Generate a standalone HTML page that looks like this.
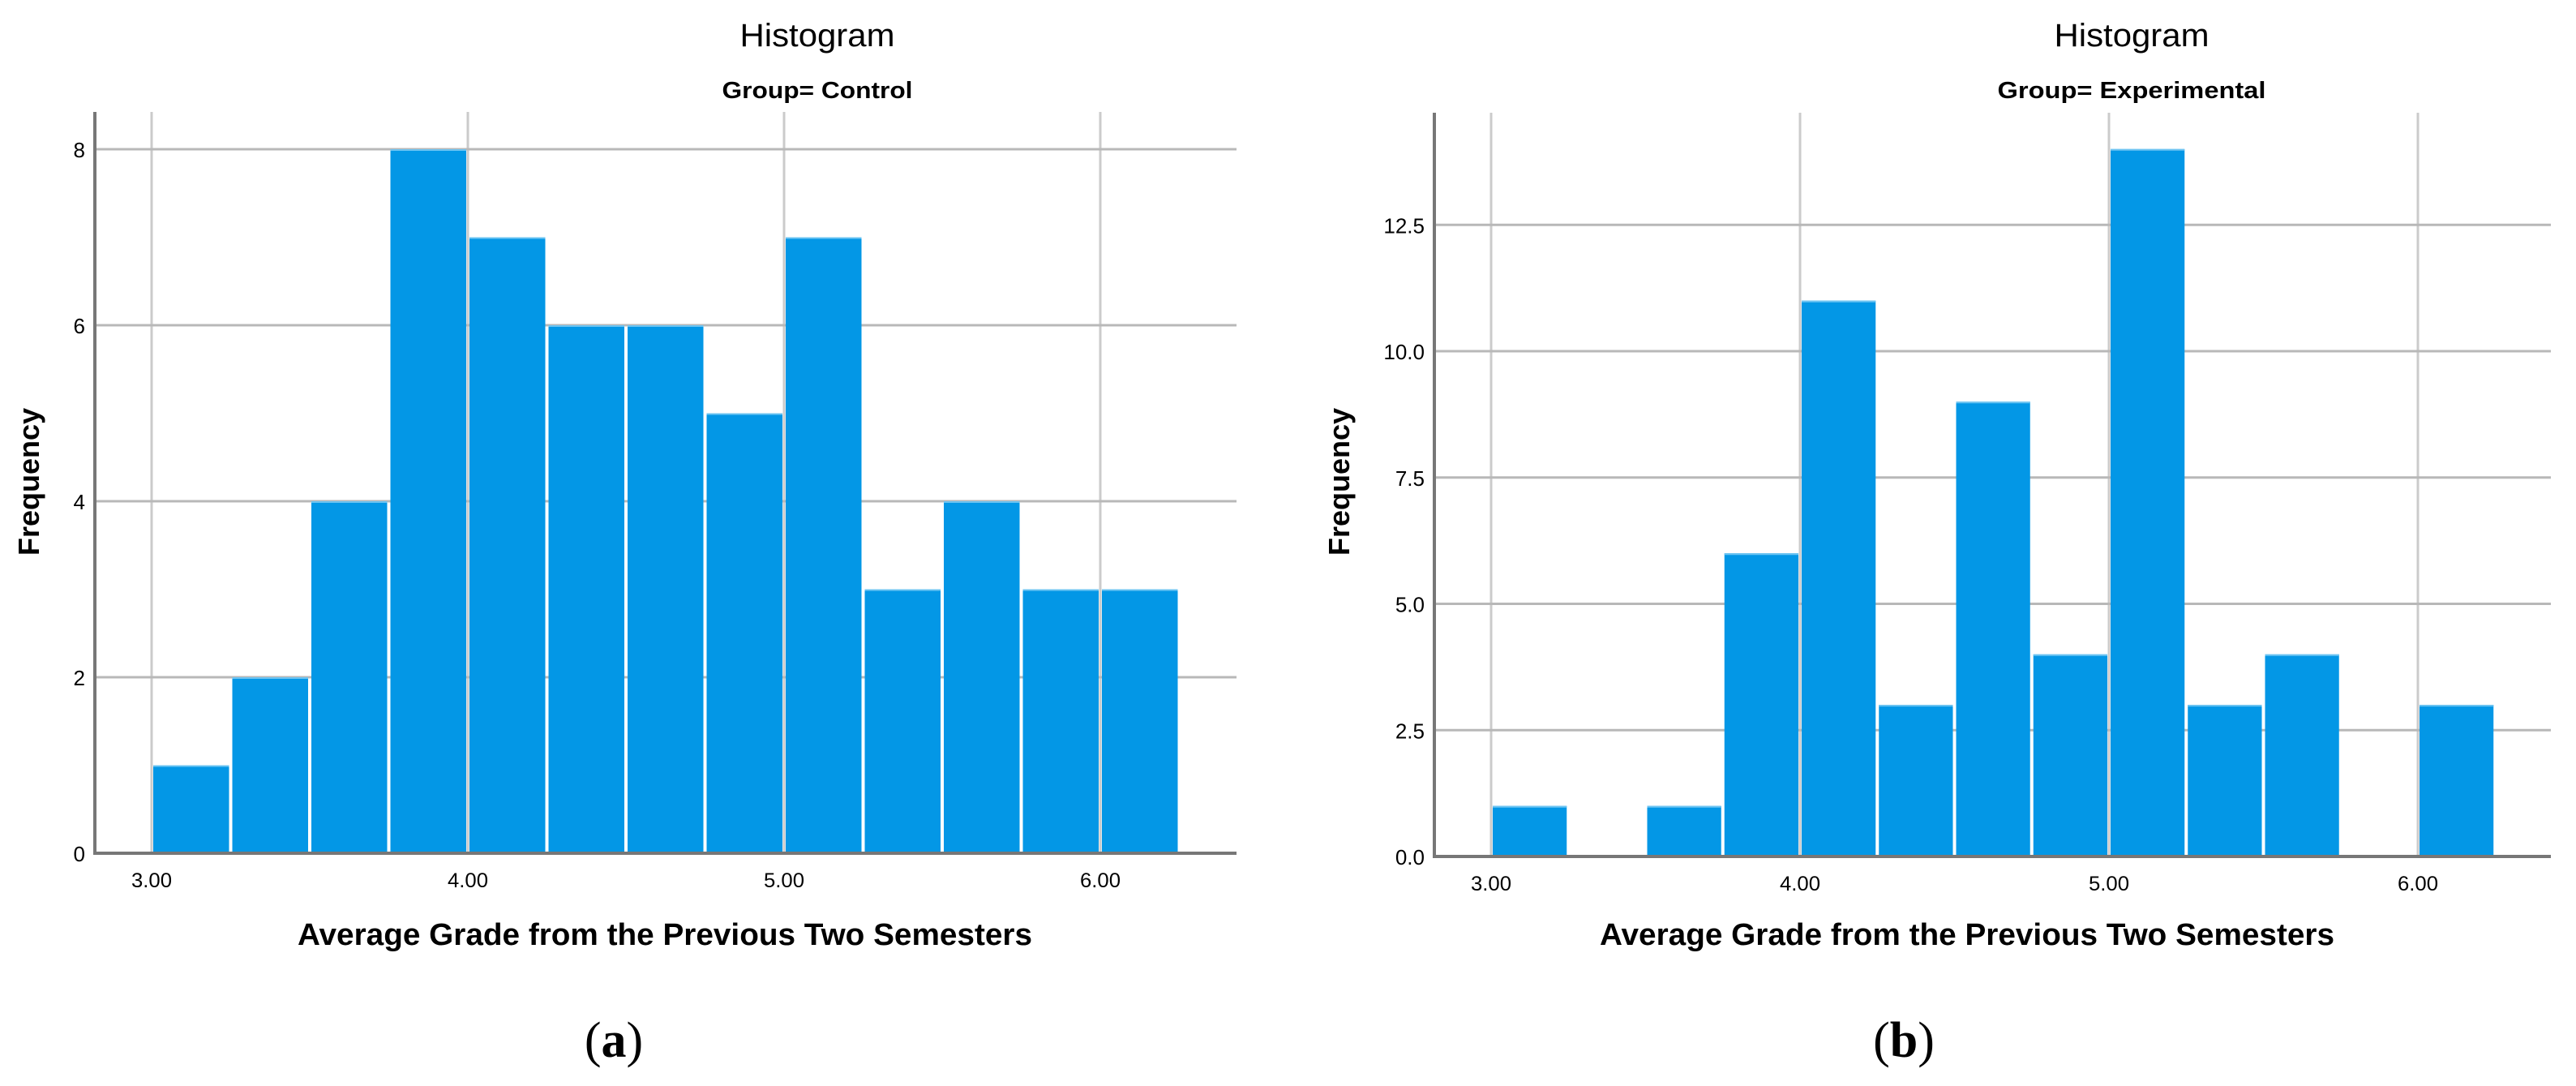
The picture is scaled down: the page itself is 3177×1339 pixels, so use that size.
<!DOCTYPE html>
<html><head><meta charset="utf-8"><style>
html,body{margin:0;padding:0;background:#fff;}
svg{display:block;}
text{font-family:"Liberation Sans",sans-serif;fill:#000;}
text.serif{font-family:"Liberation Serif",serif;}
</style></head><body>
<svg id="svg" width="3177" height="1339" viewBox="0 0 3177 1339"></svg>
<script>
const binStarts = [3.0,3.25,3.5,3.75,4.0,4.25,4.5,4.75,5.0,5.25,5.5,5.75,6.0];
const binWidth = 0.25;
const controlCounts = [1,2,4,8,7,6,6,5,7,3,4,3,3];
const experimentalCounts = [1,0,1,6,11,3,9,4,14,3,4,0,3];
const xTicks = [3,4,5,6];
const xTickLabels = ["3.00","4.00","5.00","6.00"];
const controlYTicks = [0,2,4,6,8];
const controlYLabels = ["0","2","4","6","8"];
const expYTicks = [0,2.5,5,7.5,10,12.5];
const expYLabels = ["0.0","2.5","5.0","7.5","10.0","12.5"];

const NS="http://www.w3.org/2000/svg";
const svg=document.getElementById('svg');
function mk(tag,attrs,parent){const e=document.createElementNS(NS,tag);for(const k in attrs)e.setAttribute(k,attrs[k]);(parent||svg).appendChild(e);return e;}

function panel(cfg){
  const g=mk('g',{});
  
  
  const xs=v=>cfg.x3+(v-3)*cfg.xu;
  const ys=v=>cfg.base-v*cfg.yu;
  xTicks.forEach((t,i)=>{
    const l=mk('line',{x1:xs(t),x2:xs(t),y1:cfg.top,y2:cfg.base,stroke:'#cbcbcb','stroke-width':3},g);
    
    
    const tx=mk('text',{x:xs(t),y:cfg.base+42,'font-size':25,'text-anchor':'middle',textLength:50,lengthAdjust:'spacingAndGlyphs'},g);
    tx.textContent=xTickLabels[i];
    
    
  });
  cfg.yTicks.forEach((t,i)=>{
    if(t>0){
      const l=mk('line',{x1:cfg.ax,x2:cfg.right,y1:ys(t),y2:ys(t),stroke:'#b8b8b8','stroke-width':3},g);
      
      
    }
    const tx=mk('text',{x:cfg.ax-12,y:ys(t)+10,'font-size':26,'text-anchor':'end'},g);
    tx.textContent=cfg.yLabels[i];
    
    
  });
  cfg.counts.forEach((c,i)=>{
    if(c<=0)return;
    const x0=xs(binStarts[i]),x1=xs(binStarts[i]+binWidth);
    const r=mk('rect',{x:x0+2,y:ys(c),width:x1-x0-4,height:cfg.base-ys(c),fill:'#0397e6'},g);
    
    
    mk('line',{x1:x0+2,x2:x1-2,y1:ys(c)+1,y2:ys(c)+1,stroke:'#6cc4f2','stroke-width':2},g);
  });
  const ax=mk('line',{x1:cfg.ax,x2:cfg.ax,y1:cfg.top,y2:cfg.base+2,stroke:'#777','stroke-width':4},g);
  
  
  const bx=mk('line',{x1:cfg.ax,x2:cfg.right,y1:cfg.base,y2:cfg.base,stroke:'#777','stroke-width':4},g);
  
  
  const t1=mk('text',{x:cfg.tcx,y:57,'font-size':40,'text-anchor':'middle',textLength:cfg.tw,lengthAdjust:'spacingAndGlyphs'},g);
  t1.textContent='Histogram';
  
  
  const t2=mk('text',{x:cfg.tcx,y:121,'font-size':29,'font-weight':'bold','text-anchor':'middle',textLength:cfg.sw,lengthAdjust:'spacingAndGlyphs'},g);
  t2.textContent=cfg.sub;
  
  
  const yt=mk('text',{x:0,y:0,'font-size':36,'font-weight':'bold','text-anchor':'middle',transform:`translate(${cfg.yTitleX},${594}) rotate(-90)`},g);
  yt.textContent='Frequency';
  
  
  const xt=mk('text',{x:cfg.xtcx,y:1165,'font-size':38,'font-weight':'bold','text-anchor':'middle',textLength:906,lengthAdjust:'spacingAndGlyphs'},g);
  xt.textContent='Average Grade from the Previous Two Semesters';
  
  
  const lab=mk('text',{x:cfg.labx,y:1303,'font-size':62,'text-anchor':'middle','class':'serif'},g);
  lab.innerHTML='(<tspan font-weight="bold">'+cfg.lab+'</tspan>)';
  
  
}
panel({name:'control-histogram',x3:187,xu:390,ax:117,right:1525,top:138,base:1052,yu:108.5,counts:controlCounts,yTicks:controlYTicks,yLabels:controlYLabels,tcx:1008,tw:191,sub:'Group= Control',sw:235,yTitleX:48,xtcx:820,labx:757,lab:'a'});
panel({name:'experimental-histogram',x3:1839,xu:381,ax:1769,right:3146,top:139,base:1056,yu:62.3,counts:experimentalCounts,yTicks:expYTicks,yLabels:expYLabels,tcx:2629,tw:191,sub:'Group= Experimental',sw:331,yTitleX:1664,xtcx:2426,labx:2348,lab:'b'});
</script>
</body></html>
